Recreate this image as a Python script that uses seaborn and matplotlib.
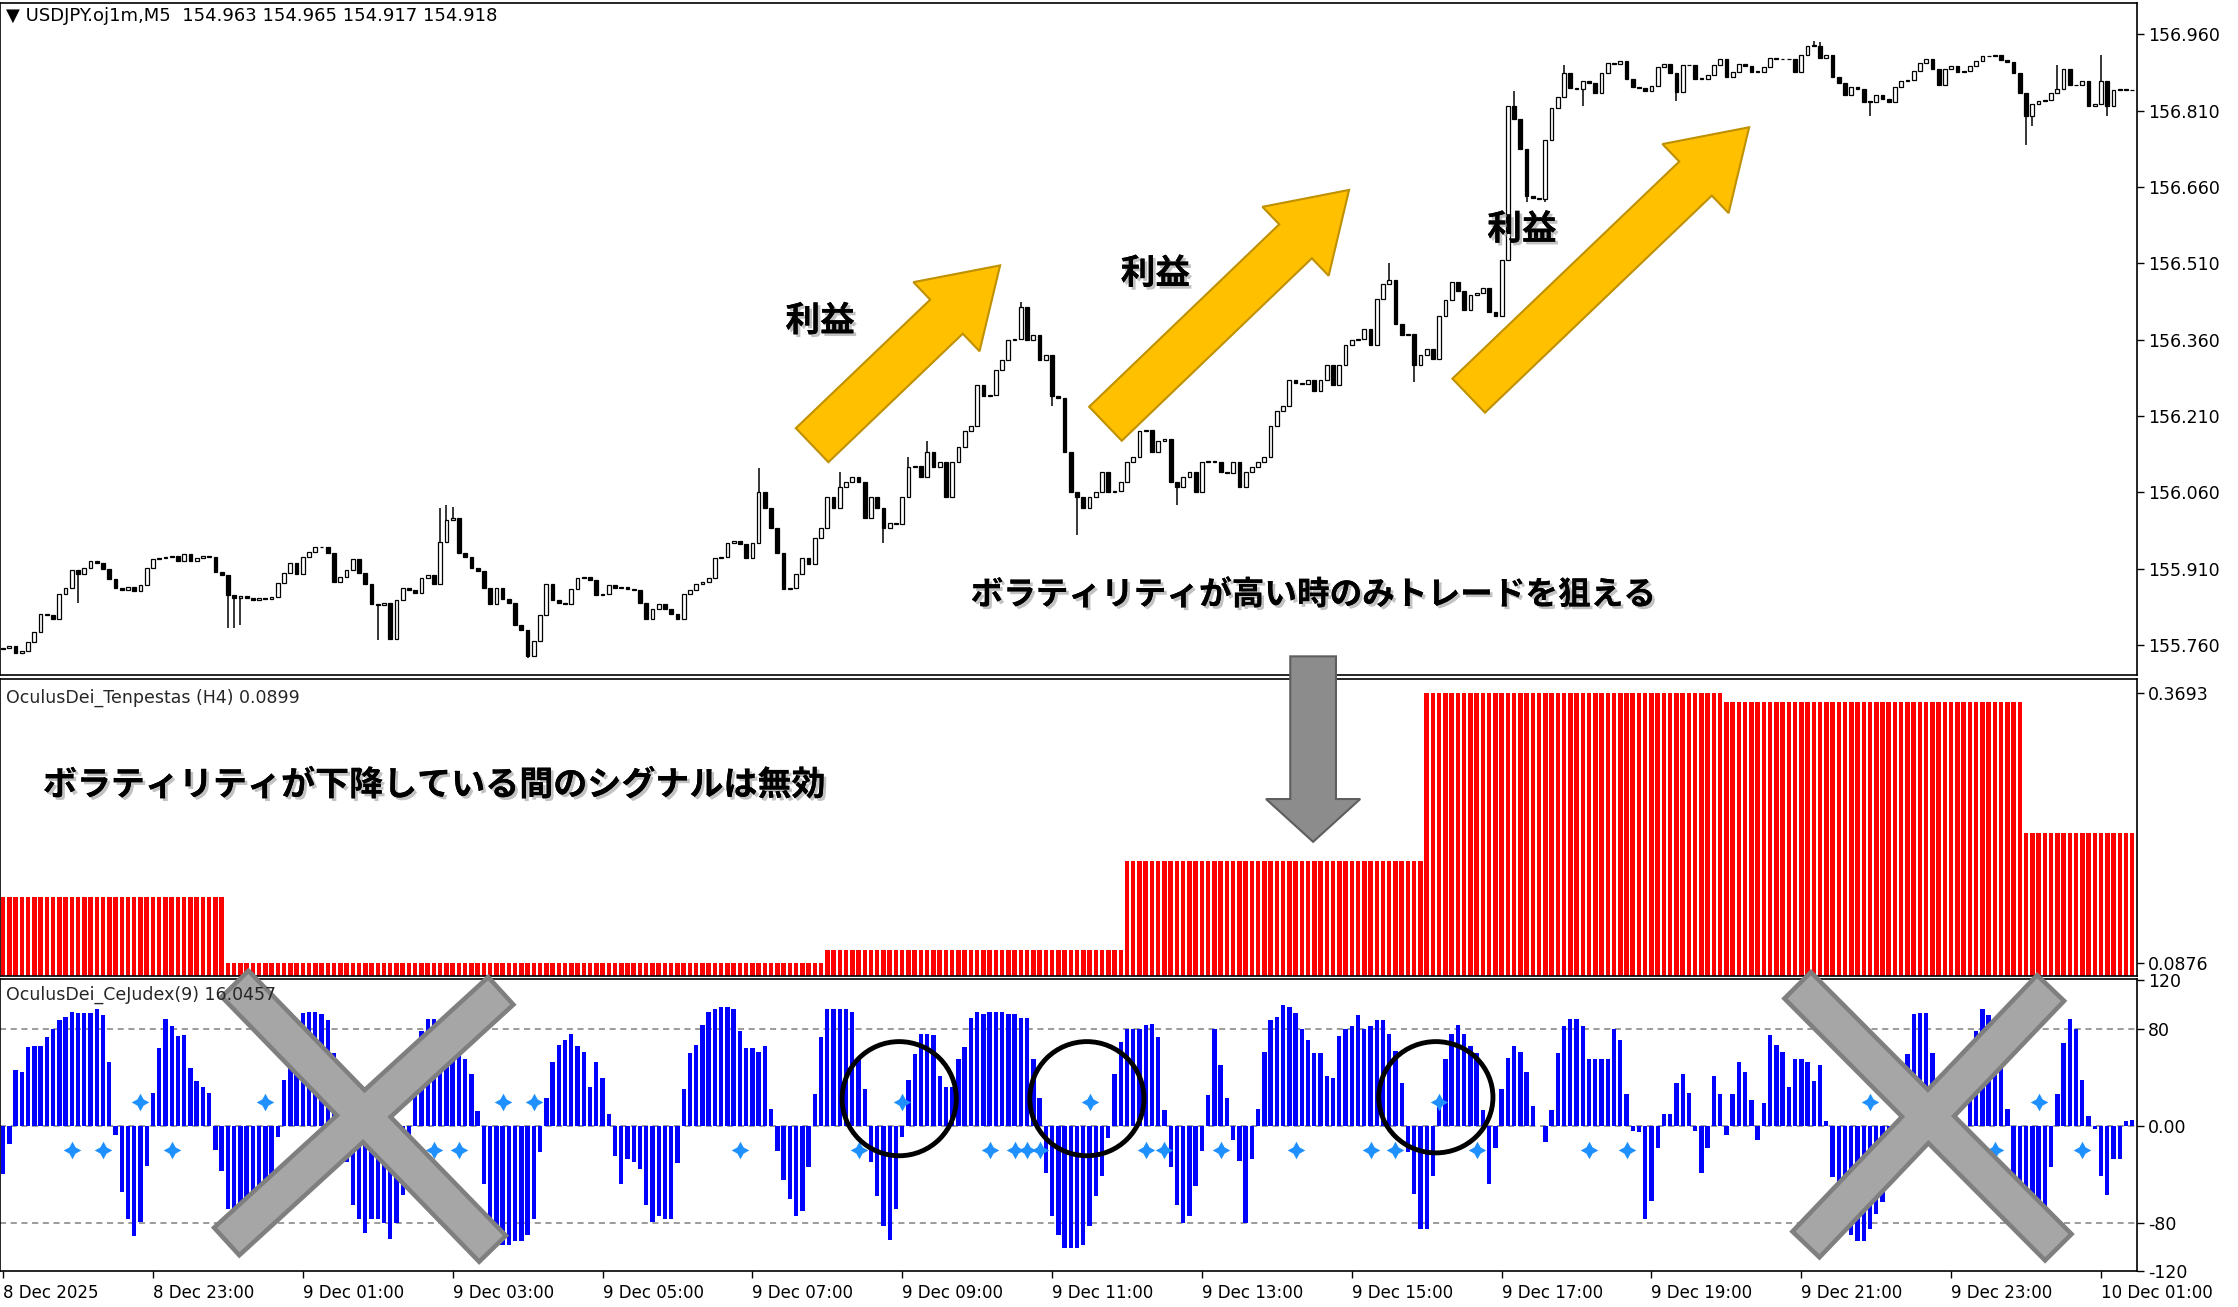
import numpy as np
import pandas as pd
import seaborn as sns
import matplotlib.pyplot as plt
import matplotlib.patheffects as pe
from matplotlib.patches import FancyArrow, Ellipse, Polygon

# ---- data ----
closes = [
    155.754, 155.758, 155.745, 155.748, 155.765, 155.785, 155.820, 155.818, 155.810, 155.860,
    155.872, 155.908, 155.900, 155.912, 155.925, 155.922, 155.910, 155.890, 155.872, 155.868,
    155.874, 155.866, 155.878, 155.912, 155.928, 155.930, 155.932, 155.934, 155.925, 155.938,
    155.924, 155.930, 155.934, 155.932, 155.904, 155.898, 155.858, 155.852, 155.856, 155.852,
    155.848, 155.852, 155.850, 155.855, 155.882, 155.902, 155.922, 155.900, 155.932, 155.942,
    155.952, 155.953, 155.940, 155.884, 155.894, 155.908, 155.928, 155.902, 155.880, 155.840,
    155.838, 155.842, 155.772, 155.848, 155.872, 155.868, 155.862, 155.892, 155.898, 155.880,
    155.962, 156.005, 156.010, 155.940, 155.932, 155.912, 155.905, 155.872, 155.840, 155.872,
    155.850, 155.842, 155.800, 155.790, 155.738, 155.768, 155.818, 155.880, 155.848, 155.842,
    155.840, 155.870, 155.892, 155.893, 155.888, 155.858, 155.860, 155.878, 155.872, 155.874,
    155.870, 155.868, 155.842, 155.810, 155.830, 155.840, 155.830, 155.820, 155.810, 155.860,
    155.868, 155.880, 155.883, 155.892, 155.930, 155.933,
    155.960, 155.965, 155.958, 155.930, 155.960, 156.060, 156.030, 155.990, 155.940, 155.870,
    155.872, 155.900, 155.930, 155.920, 155.970, 155.990, 156.050, 156.030, 156.070, 156.080,
    156.090, 156.080, 156.010, 156.050, 156.030, 155.990, 156.000, 155.998, 156.050, 156.110,
    156.112, 156.090, 156.140, 156.110, 156.120, 156.050, 156.120, 156.150, 156.180, 156.190,
    156.270, 156.250, 156.252, 156.300, 156.320, 156.360, 156.362, 156.425, 156.360, 156.370,
    156.320, 156.330, 156.250, 156.245, 156.140, 156.060, 156.050, 156.030, 156.050, 156.060,
    156.100, 156.060, 156.062, 156.080, 156.120, 156.130, 156.180, 156.182, 156.140, 156.160,
    156.165, 156.080, 156.070, 156.090, 156.100, 156.060, 156.120, 156.122, 156.120, 156.100,
    156.098, 156.120, 156.070, 156.100, 156.110, 156.120, 156.130, 156.190, 156.220, 156.230,
    156.280, 156.275, 156.272, 156.280, 156.260, 156.280, 156.310, 156.270, 156.310, 156.350,
    156.360, 156.362, 156.380, 156.350, 156.440, 156.470, 156.478, 156.390, 156.370, 156.372,
    156.310, 156.330,
    156.342, 156.322, 156.407, 156.437, 156.473, 156.455, 156.419, 156.447, 156.451, 156.461,
    156.415, 156.407, 156.516, 156.820, 156.794, 156.735, 156.642, 156.638, 156.636, 156.753,
    156.816, 156.837, 156.884, 156.854, 156.852, 156.869, 156.865, 156.845, 156.884, 156.903,
    156.902, 156.908, 156.873, 156.857, 156.854, 156.849, 156.859, 156.895, 156.901, 156.884,
    156.846, 156.900, 156.899, 156.873, 156.872, 156.881, 156.900, 156.911, 156.877, 156.887,
    156.901, 156.897, 156.887, 156.886, 156.895, 156.914, 156.911, 156.912, 156.911, 156.887,
    156.919, 156.938, 156.938, 156.914, 156.919, 156.877, 156.865, 156.841, 156.857, 156.853,
    156.828, 156.827, 156.841, 156.834, 156.828, 156.857, 156.869, 156.870, 156.889, 156.904,
    156.911, 156.893, 156.861, 156.893, 156.897, 156.887, 156.889, 156.897, 156.908, 156.917,
    156.918, 156.919, 156.910, 156.906, 156.885, 156.845, 156.800, 156.824, 156.830, 156.832,
    156.845, 156.853, 156.892, 156.861, 156.860, 156.869, 156.820, 156.824, 156.869, 156.820,
    156.851, 156.852, 156.850, 156.851,
]
first_open = 155.752
wick_hi = {70: 156.030, 71: 156.035, 72: 156.032, 121: 156.107, 134: 156.100, 145: 156.130,
           148: 156.160, 163: 156.435, 222: 156.510, 242: 156.849, 250: 156.900, 290: 156.948,
           291: 156.945, 329: 156.900, 336: 156.920}
wick_lo = {12: 155.843, 36: 155.794, 37: 155.794, 38: 155.800, 60: 155.770, 84: 155.735,
           141: 155.960, 168: 156.230, 172: 155.977, 188: 156.035, 226: 156.277, 241: 156.630,
           244: 156.630, 247: 156.630, 253: 156.820, 268: 156.830, 299: 156.800, 324: 156.743,
           325: 156.780, 337: 156.800}

red_levels = [0.1566, 0.0876, 0.1010, 0.1940, 0.3693, 0.3600, 0.2240]
red_counts = [36, 96, 48, 48, 48, 48, 18]

blue_vals = [
    -40, -15, 46, 44, 65, 66, 66, 73, 80, 87,
    90, 94, 93, 93, 93, 96, 91, 53, -8, -55,
    -77, -91, -79, -33, 27, 64, 88, 82, 74, 75,
    48, 37, 32, 27, -20, -37, -69, -80, -85, -88,
    -90, -85, -80, -70, -9, 38, 52, 59, 93, 94,
    94, 92, 87, 60, 20, -30, -65, -77, -88, -77,
    -77, -80, -93, -80, -57, -12, 60, 78, 88, 88,
    85, 82, 75, 65, 55, 43, 12, -48, -89, -95,
    -98, -98, -95, -95, -90, -77, -22, 23, 53, 67,
    71, 76, 66, 61, 32, 53, 39, 10, -25, -48,
    -27, -30, -36, -65, -79, -74, -77, -77, -31,
    30, 60, 67, 83, 94, 96, 98, 98, 96, 78,
    64, 64, 61, 66, 14, -21, -45, -60, -74, -70,
    -34, 26, 73, 96, 96, 96, 96, 94, 54, 30,
    -30, -58, -83, -94, -69, -9, 38, 59, 76, 76,
    75, 41, 32, 32, 55, 65, 89, 94, 92, 94,
    94, 94, 92, 92, 89, 89, 55, 23, -39, -74,
    -90, -101, -101, -101, -98, -83, -58, -41, -10, 43,
    69, 80, 80, 80, 83, 84, 73, 13, -34, -65,
    -80, -74,
    -50, -21, 25, 80, 50, 23, -12, -29, -80, -27,
    14, 61, 87, 90, 100, 98, 93, 80, 71, 60,
    60, 41, 39, 74, 80, 82, 91, 80, 82, 87,
    87, 76, 62, 35, -22, -56, -85, -85, -41, 18,
    55, 76, 83, 76, 66, 60, 13, -48, -18, 30,
    56, 66, 61, 44, 16, 0, -13, 13, 60, 82,
    88, 88, 82, 55, 55, 55, 55, 80, 71, 26,
    -4, -5, -77, -62, -18, 10, 10, 35, 43, 27,
    -4, -39, -18, 41, 26, -8, 26, 53, 44, 21,
    -12, 19, 75, 67, 61, 32, 55, 55, 53, 37,
    50, 4, -42, -60, -85, -90, -95, -95, -85, -73,
    -63, -40, -15, 30, 59, 92, 93, 93, 60, 30,
    -20, -25, -15, -40, 21, 78, 96, 91, 57, 48,
    14, -45, -70, -85, -95, -85, -67, -34, 26, 68,
    88, 80, 38, 8, -3, -41, -57, -27, -27, 4, 5,
]
star_up = [22, 42, 80, 85, 144, 174, 230, 299, 326]
star_dn = [11, 16, 27, 69, 73, 118, 137, 158, 162, 164, 166, 183, 186, 195, 207, 219,
           223, 236, 254, 260, 319, 333]

price_ticks = [155.760, 155.910, 156.060, 156.210, 156.360, 156.510, 156.660, 156.810, 156.960]
time_labels = ['8 Dec 2025', '8 Dec 23:00', '9 Dec 01:00', '9 Dec 03:00', '9 Dec 05:00',
               '9 Dec 07:00', '9 Dec 09:00', '9 Dec 11:00', '9 Dec 13:00', '9 Dec 15:00',
               '9 Dec 17:00', '9 Dec 19:00', '9 Dec 21:00', '9 Dec 23:00', '10 Dec 01:00']

# ---- style ----
sns.set_theme(style='ticks')
plt.rcParams['font.family'] = ['DejaVu Sans', 'Noto Sans CJK JP']
plt.rcParams['axes.linewidth'] = 1.2
plt.rcParams['axes.edgecolor'] = 'black'

n = len(closes)
x = np.arange(n)
c = np.array(closes)
o = np.r_[first_open, c[:-1]]
hi = np.maximum(o, c)
lo = np.minimum(o, c)
for k, v in wick_hi.items():
    hi[k] = max(hi[k], v)
for k, v in wick_lo.items():
    lo[k] = min(lo[k], v)

fig = plt.figure(figsize=(22.38, 13.07), dpi=100)
ax1 = fig.add_axes([0.0, 0.4836, 0.9547, 0.5142])
ax2 = fig.add_axes([0.0, 0.2533, 0.9547, 0.2271])
ax3 = fig.add_axes([0.0, 0.0273, 0.9547, 0.2238])
xlim = (-0.5, 341.7)

# main candle chart
ax1.vlines(x, lo, hi, color='black', lw=1.1, zorder=1)
up = c >= o
body = np.maximum(np.abs(c - o), 0.0014)
bottom = np.minimum(o, c)
ax1.bar(x[up], body[up], bottom=bottom[up], width=0.6, color='white',
        edgecolor='black', linewidth=0.9, zorder=2)
ax1.bar(x[~up], body[~up], bottom=bottom[~up], width=0.6, color='black',
        edgecolor='black', linewidth=0.9, zorder=2)
ax1.set_xlim(*xlim)
ax1.set_ylim(155.701, 157.022)
ax1.set_xticks([])
ax1.yaxis.tick_right()
ax1.set_yticks(price_ticks)
ax1.set_yticklabels([f'{v:.3f}' for v in price_ticks])

# volatility histogram
red_vals = np.repeat(red_levels, red_counts)
sns.barplot(x=x, y=red_vals, native_scale=True, orient='x', color='#FF0000', saturation=1,
            width=0.72, errorbar=None, linewidth=0, ax=ax2)
ax2.set_xlim(*xlim)
ax2.set_ylim(0.0741, 0.3843)
ax2.set_xticks([])
ax2.yaxis.tick_right()
ax2.set_yticks([0.0876, 0.3693])
ax2.set_yticklabels(['0.0876', '0.3693'])

# oscillator histogram
df_blue = pd.DataFrame({'bar': x, 'val': blue_vals})
for lvl in (80, 0, -80):
    ax3.axhline(lvl, color='#808080', lw=1.1, ls=(0, (4, 3)), zorder=0)
sns.barplot(data=df_blue, x='bar', y='val', native_scale=True, orient='x', color='#0000FF',
            saturation=1, width=0.7, errorbar=None, linewidth=0, ax=ax3, zorder=2)
ax3.scatter(star_up, [20] * len(star_up), marker=(4, 1, 0), s=160, color='#1E90FF',
            linewidths=0, zorder=3)
ax3.scatter(star_dn, [-20] * len(star_dn), marker=(4, 1, 0), s=160, color='#1E90FF',
            linewidths=0, zorder=3)
ax3.set_xlim(*xlim)
ax3.set_ylim(-120, 121.2)
ax3.yaxis.tick_right()
ax3.set_yticks([-120, -80, 0, 80, 120])
ax3.set_yticklabels(['-120', '-80', '0.00', '80', '120'])
ax3.set_xticks(np.arange(0, 337, 24))
ax3.set_xticklabels(time_labels, ha='left')

for ax in (ax1, ax2, ax3):
    ax.set_xlabel('')
    ax.set_ylabel('')
    ax.tick_params(axis='y', direction='out', length=5, width=1, labelsize=12.5, pad=3,
                   right=True, left=False, labelcolor='black', color='black')
ax3.tick_params(axis='x', direction='out', length=5, width=1, labelsize=12, pad=4,
                bottom=True, labelcolor='black', color='black')

# ---- overlay annotations (coordinates in the 1568x916 view) ----
ov = fig.add_axes([0, 0, 1, 1], zorder=10)
ov.set_xlim(0, 1568)
ov.set_ylim(916, 0)
ov.axis('off')
ov.patch.set_alpha(0)

ov.text(4, 11, '▼ USDJPY.oj1m,M5  154.963 154.965 154.917 154.918', fontsize=13,
        va='center', ha='left', color='black')
ov.text(4, 489, 'OculusDei_Tenpestas (H4) 0.0899', fontsize=12.5, va='center', ha='left')
ov.text(4, 697, 'OculusDei_CeJudex(9) 16.0457', fontsize=12.5, va='center', ha='left')

jp = dict(family=['Noto Sans CJK JP'], fontweight='bold', color='black',
          path_effects=[pe.withSimplePatchShadow(offset=(2, -2), shadow_rgbFace='#9a9a9a',
                                                 alpha=0.6), pe.Normal()])

yellow = [((569, 312), (700.7, 186)), ((774.5, 297), (945.2, 133.1)),
          ((1029, 277.3), (1225.5, 89.2))]
for (x0, y0), (x1, y1) in yellow:
    ov.add_patch(FancyArrow(x0, y0, x1 - x0, y1 - y0, width=33, head_width=67,
                            head_length=52, length_includes_head=True,
                            fc='#FFC000', ec='#BF9000', lw=1.5))

for tx, ty in [(574.6, 224.8), (809.5, 191.6), (1066.3, 160.6)]:
    ov.text(tx, ty, '利益', fontsize=25, ha='center', va='center', **jp)

ov.text(920, 417, 'ボラティリティが高い時のみトレードを狙える', fontsize=23.5,
        ha='center', va='center', **jp)
ov.text(30, 550, 'ボラティリティが下降している間のシグナルは無効', fontsize=24.5,
        ha='left', va='center', **jp)

ov.add_patch(FancyArrow(920, 460, 0, 130, width=32, head_width=66, head_length=30,
                        length_includes_head=True, fc='#8C8C8C', ec='#5E5E5E', lw=1.5))

for cx, cy, w, h in [(630, 770, 80, 80), (761.5, 770, 80, 80), (1006, 769, 80, 78)]:
    ov.add_patch(Ellipse((cx, cy), w, h, fill=False, ec='black', lw=3.5))


def arm(p1, p2, w):
    p1, p2 = np.array(p1, float), np.array(p2, float)
    d = (p2 - p1) / np.linalg.norm(p2 - p1)
    nv = np.array([-d[1], d[0]]) * w / 2
    return [p1 + nv, p2 + nv, p2 - nv, p1 - nv]


crosses = [[((165.8, 690.6), (344, 874)), ((349.7, 695.5), (160, 869))],
           [((1260.6, 691.7), (1441, 873)), ((1435.6, 693.6), (1266.4, 871))]]
for cross in crosses:
    polys = [arm(a, b, 23) for a, b in cross]
    for p in polys:
        ov.add_patch(Polygon(p, closed=True, fc='#A6A6A6', ec='#7F7F7F', lw=6.5,
                             joinstyle='miter'))
    for p in polys:
        ov.add_patch(Polygon(p, closed=True, fc='#A6A6A6', ec='none'))

fig.savefig('out.png', dpi=100)
